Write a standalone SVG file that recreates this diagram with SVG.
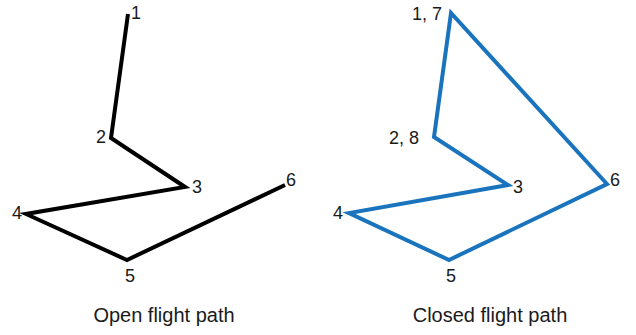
<svg xmlns="http://www.w3.org/2000/svg" width="636" height="335" viewBox="0 0 636 335">
<style>
.lbl{font-family:"Liberation Sans",Arial,sans-serif;font-size:18px;fill:#1a1a1a}
.cap{font-family:"Liberation Sans",Arial,sans-serif;font-size:20px;fill:#1a1a1a;text-anchor:middle}
.open{fill:none;stroke:#000;stroke-width:4;stroke-linejoin:miter;stroke-linecap:butt}
.closed{fill:none;stroke:#1a74bd;stroke-width:4;stroke-linejoin:miter}
</style>
<rect width="636" height="335" fill="#fff"/>
<g id="connectors">
<polyline class="open" points="128,14 111,138 185,187 26,214 127,260 285,185"/>
<polygon class="closed" points="451,13 434,137 508,185 349,213 449,260 607,184"/>
</g>
<g id="open-path">
<text class="lbl" x="131" y="19">1</text>
<text class="lbl" x="96" y="143">2</text>
<text class="lbl" x="192" y="193">3</text>
<text class="lbl" x="12" y="219">4</text>
<text class="lbl" x="125" y="282">5</text>
<text class="lbl" x="286" y="186">6</text>
<text class="cap" x="164" y="322">Open flight path</text>
</g>
<g id="closed-path">
<text class="lbl" x="412" y="20">1, 7</text>
<text class="lbl" x="389" y="144">2, 8</text>
<text class="lbl" x="513" y="193">3</text>
<text class="lbl" x="333" y="219">4</text>
<text class="lbl" x="446" y="282">5</text>
<text class="lbl" x="610" y="186">6</text>
<text class="cap" x="490" y="322">Closed flight path</text>
</g>
</svg>
